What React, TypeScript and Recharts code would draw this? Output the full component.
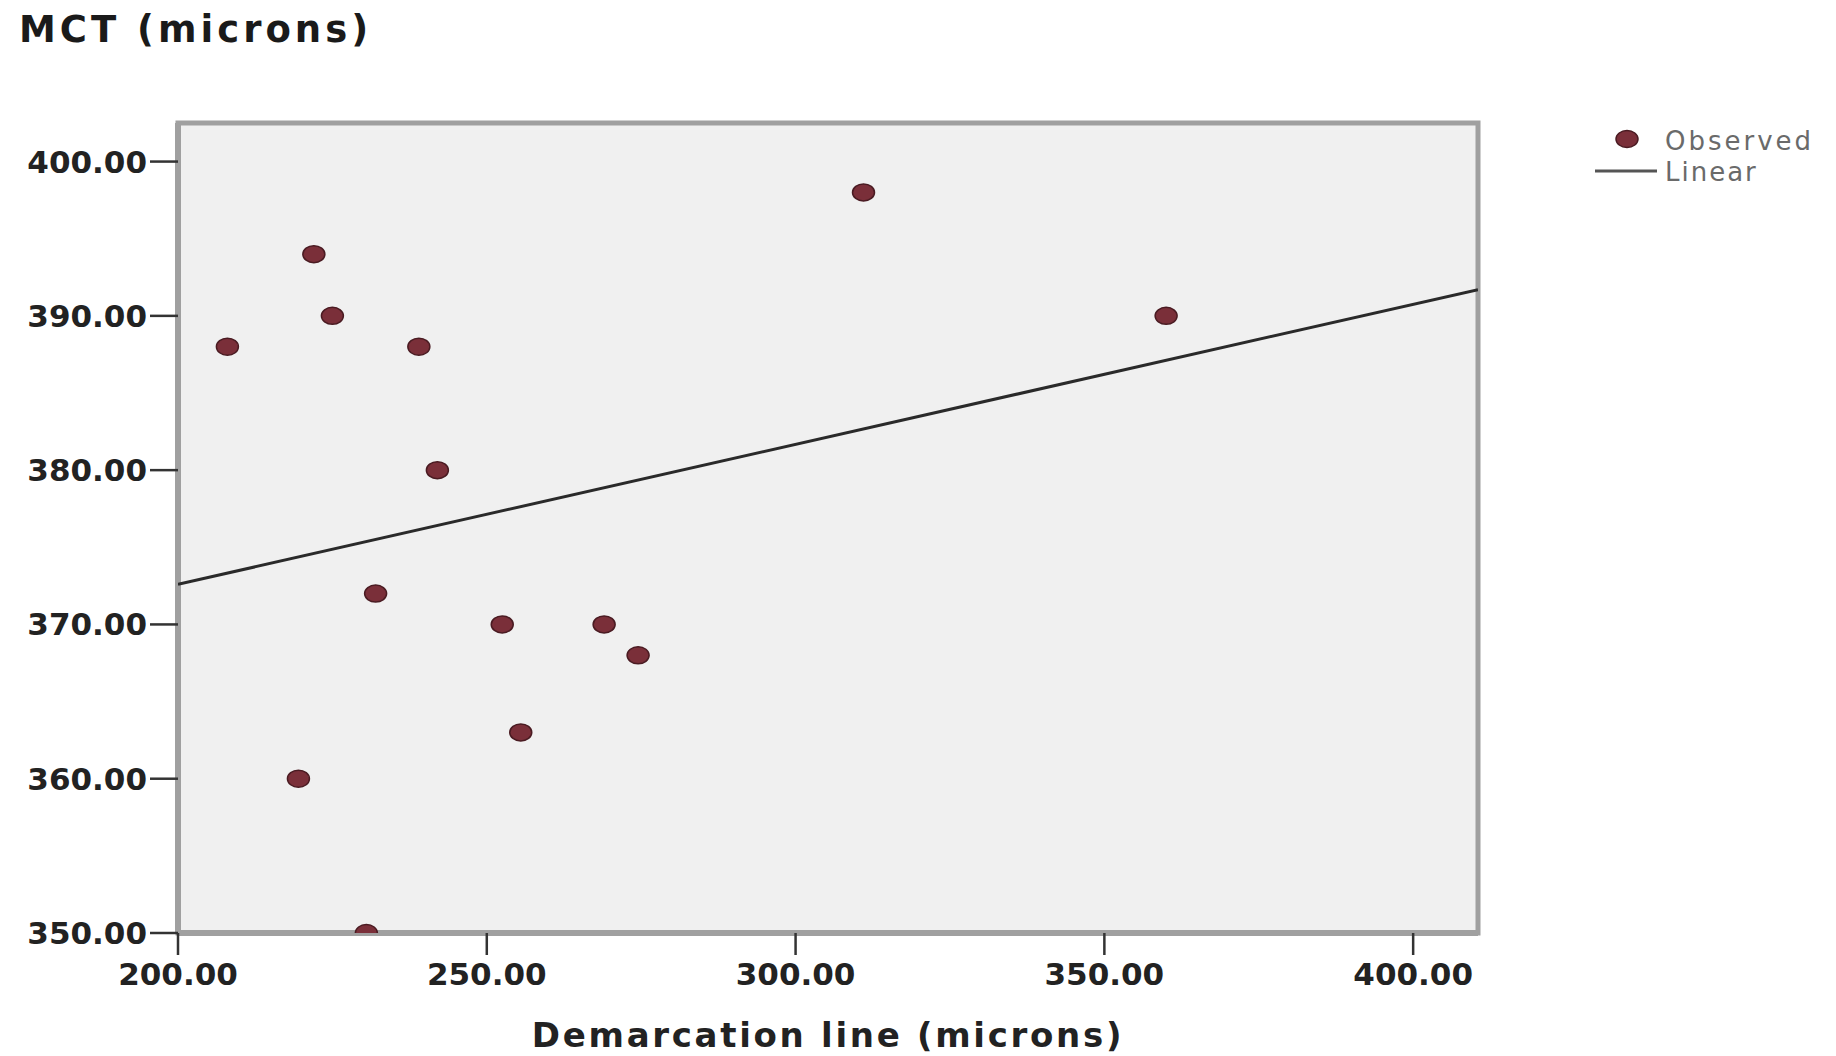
import React from "react";
import {
  ScatterChart,
  Scatter,
  XAxis,
  YAxis,
  CartesianGrid,
  ReferenceArea,
} from "recharts";

// observed points
const demarcation = [208, 222, 225, 239, 242, 232, 252.5, 269, 274.5, 255.5, 219.5, 230.5, 311, 360];
const mct = [388, 394, 390, 388, 380, 372, 370, 370, 368, 363, 360, 350, 398, 390];

// fitted linear line, ends at the plot edges
const linearX = [200, 410.5];
const linearY = [372.6, 391.7];

const xTicks = [200, 250, 300, 350, 400];
const yTicks = [350, 360, 370, 380, 390, 400];
const xDomain = [200, 410.5];
const yDomain = [350, 402.5];

const observed = demarcation.map((x, i) => ({ x, y: mct[i] }));
const linear = linearX.map((x, i) => ({ x, y: linearY[i] }));

const DOT_FILL = "#7a2f39";
const DOT_STROKE = "#4a1b22";
const FRAME = "#a0a0a0";
const FONT = "'DejaVu Sans', sans-serif";

const tickStyle = {
  fontFamily: FONT,
  fontSize: 31,
  fontWeight: 700,
  fill: "#222",
};

function Dot(props: any) {
  const { cx, cy } = props;
  return (
    <ellipse cx={cx} cy={cy} rx={11} ry={8.5} fill={DOT_FILL} stroke={DOT_STROKE} strokeWidth={1.5} />
  );
}

function NoDot() {
  return <g />;
}

export default function App() {
  return (
    <div style={{ position: "absolute", left: 0, top: 0, width: 1836, height: 1056, background: "#fff" }}>
      <ScatterChart
        width={1836}
        height={1056}
        margin={{ top: 123, right: 358, bottom: 0, left: 0 }}
      >
        <CartesianGrid fill="#f0f0f0" horizontal={false} vertical={false} />
        <XAxis
          type="number"
          dataKey="x"
          domain={xDomain}
          ticks={xTicks}
          allowDataOverflow
          height={123}
          tickFormatter={(v) => Number(v).toFixed(2)}
          tick={tickStyle}
          tickSize={22}
          tickMargin={8}
          tickLine={{ stroke: "#333", strokeWidth: 2.5 }}
          axisLine={{ stroke: FRAME, strokeWidth: 6 }}
          label={{
            value: "Demarcation line (microns)",
            position: "insideBottom",
            offset: 9,
            style: {
              fontFamily: FONT,
              fontSize: 34,
              fontWeight: 700,
              fill: "#222",
              letterSpacing: 2.7,
            },
          }}
        />
        <YAxis
          type="number"
          dataKey="y"
          domain={yDomain}
          ticks={yTicks}
          allowDataOverflow
          width={178}
          tickFormatter={(v) => Number(v).toFixed(2)}
          tick={tickStyle}
          tickSize={28}
          tickMargin={3}
          tickLine={{ stroke: "#333", strokeWidth: 2.5 }}
          axisLine={{ stroke: FRAME, strokeWidth: 6 }}
        />
        <ReferenceArea
          x1={xDomain[0]}
          x2={xDomain[1]}
          y1={yDomain[0]}
          y2={yDomain[1]}
          fill="none"
          stroke={FRAME}
          strokeWidth={5}
          fillOpacity={0}
        />
        <Scatter
          name="Linear"
          data={linear}
          line={{ stroke: "#2a2a2a", strokeWidth: 3 }}
          shape={NoDot}
          isAnimationActive={false}
        />
        <Scatter
          name="Observed"
          data={observed}
          shape={Dot}
          isAnimationActive={false}
        />
      </ScatterChart>

      <svg
        width={1836}
        height={1056}
        style={{ position: "absolute", left: 0, top: 0, pointerEvents: "none" }}
      >
        <text
          x={19}
          y={42}
          fontFamily={FONT}
          fontSize={37}
          fontWeight={700}
          fill="#1a1a1a"
          letterSpacing={4}
        >
          MCT (microns)
        </text>
        <ellipse cx={1627} cy={139} rx={11} ry={8.5} fill={DOT_FILL} stroke={DOT_STROKE} strokeWidth={1.5} />
        <text x={1665} y={141} dominantBaseline="central" fontFamily={FONT} fontSize={26} fill="#6a6a6a" letterSpacing={3}>
          Observed
        </text>
        <line x1={1595} y1={171} x2={1657} y2={171} stroke="#555" strokeWidth={3} />
        <text x={1665} y={172} dominantBaseline="central" fontFamily={FONT} fontSize={26} fill="#6a6a6a" letterSpacing={2}>
          Linear
        </text>
      </svg>
    </div>
  );
}
